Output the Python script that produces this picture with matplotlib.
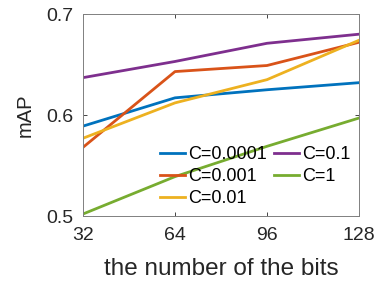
import matplotlib.pyplot as plt

# --- Data ---
bits = [32, 64, 96, 128]
labels = ['C=0.0001', 'C=0.001', 'C=0.01', 'C=0.1', 'C=1']
c_0001 = [0.589, 0.617, 0.625, 0.632]
c_001 = [0.568, 0.643, 0.649, 0.672]
c_01 = [0.577, 0.612, 0.635, 0.674]
c_1 = [0.637, 0.653, 0.671, 0.680]
c_10 = [0.502, 0.539, 0.569, 0.597]
colors = ['#0072BD', '#D95319', '#EDB120', '#7E2F8E', '#77AC30']

plt.rcParams['font.family'] = ['Liberation Sans', 'DejaVu Sans']

fig = plt.figure(figsize=(3.78, 2.84), dpi=100)
ax = fig.add_axes([0.2196, 0.2394, 0.7301, 0.7113])

for series, lab, col in zip([c_0001, c_001, c_01, c_1, c_10], labels, colors):
    ax.plot(bits, series, color=col, lw=2.0, label=lab)

ax.set_xlim(32, 128)
ax.set_ylim(0.5, 0.7)
ax.set_xticks(bits)
ax.set_yticks([0.5, 0.6, 0.7])
ax.set_yticklabels(['0.5', '0.6', '0.7'])
ax.tick_params(direction='in', top=True, right=True, length=3, width=0.6,
               color='#262626', labelcolor='#262626', labelsize=14)
ax.tick_params(axis='y', pad=7)
ax.tick_params(axis='x', pad=8)
for s in ax.spines.values():
    s.set_color('#808080')
    s.set_linewidth(0.7)

ax.set_xlabel('the number of the bits', fontsize=17.5, color='#262626', labelpad=10)
ax.set_ylabel('mAP', fontsize=14.5, color='#262626', labelpad=8)

ax.legend(ncol=2, frameon=False, fontsize=13, loc='upper left',
          bbox_to_anchor=(160 / 378, 1 - 146 / 284), bbox_transform=fig.transFigure,
          handlelength=1.39, handletextpad=0.17, columnspacing=0.37,
          labelspacing=0.28, borderpad=0, borderaxespad=0)

plt.savefig('out.png', dpi=100)
